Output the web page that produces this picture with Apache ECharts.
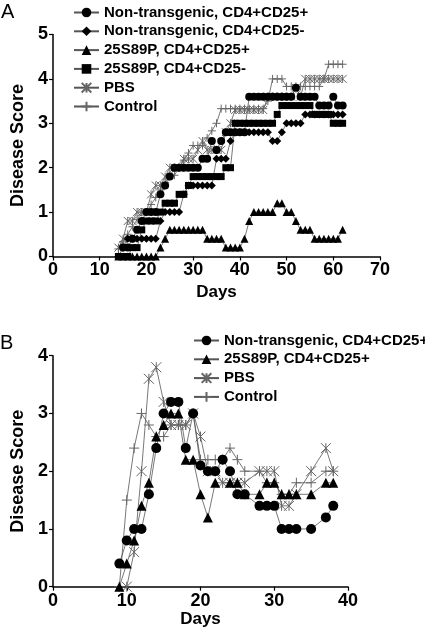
<!DOCTYPE html>
<html><head><meta charset="utf-8">
<script src="https://cdn.jsdelivr.net/npm/echarts@6/dist/echarts.min.js"></script>
<style>html,body{margin:0;padding:0;background:#fff}#c{width:425px;height:634px}</style>
</head><body><div id="c"></div>
<script>
// ---------- Panel A data (days 14..62) ----------
const daysA = [14,15,16,17,18,19,20,21,22,23,24,25,26,27,28,29,30,31,32,33,34,35,36,37,38,39,40,41,42,43,44,45,46,47,48,49,50,51,52,53,54,55,56,57,58,59,60,61,62];
const ntPlusA  = [null,0.2,0.2,0.4,0.6,0.8,1.0,1.0,1.0,1.4,1.6,1.8,2.0,2.0,2.0,2.0,2.0,2.0,2.2,2.2,2.6,2.4,2.6,2.8,2.8,2.8,2.8,2.8,3.6,3.6,3.6,3.6,3.6,3.6,3.6,3.6,3.6,3.6,3.8,3.6,3.6,3.6,3.6,3.4,3.4,3.4,3.6,3.4,3.4];
const ntMinusA = [0,0.2,0.4,0.4,0.4,0.4,0.4,0.4,0.4,0.8,1.0,1.0,1.0,1.0,1.4,1.6,1.6,1.6,1.6,1.6,1.6,2.2,2.2,2.2,2.6,2.8,2.8,2.8,2.8,2.8,2.8,2.8,2.8,2.6,2.6,2.8,3.0,3.0,3.0,3.0,3.2,3.2,3.2,3.2,3.2,3.2,3.2,3.2,3.2];
const tgPlusA  = [0,0,0,0,0,0,0,0,0,0.2,0.4,0.6,0.6,0.6,0.6,0.6,0.6,0.6,0.6,0.4,0.4,0.4,0.4,0.2,0.2,0.2,0.2,0.4,0.8,1.0,1.0,1.0,1.0,1.0,1.2,1.2,1.0,1.0,0.8,0.6,0.6,0.6,0.4,0.4,0.4,0.4,0.4,0.4,0.6];
const tgMinusA = [0,0,0,0.2,0.2,0.6,0.8,0.8,0.8,1.0,1.2,1.2,1.2,1.4,1.4,1.6,1.8,1.8,1.8,1.8,1.8,1.8,1.8,2.0,2.0,3.0,3.0,3.0,3.0,3.0,3.0,3.0,3.0,3.0,3.2,3.4,3.4,3.4,3.4,3.4,3.4,3.4,3.2,3.2,3.2,3.2,3.0,3.0,3.0];
const pbsA     = [0.2,0.4,0.8,0.8,1.0,1.0,1.0,1.4,1.6,1.6,1.8,2.0,2.0,2.0,2.2,2.2,2.2,2.4,2.6,2.4,2.4,2.4,2.4,2.8,3.0,3.3,3.3,3.3,3.3,3.3,3.3,3.3,3.6,3.6,3.6,3.6,3.6,3.6,3.8,3.6,4.0,4.0,4.0,4.0,4.0,4.0,4.0,4.0,4.0];
const controlA = [0.17,0.33,0.5,0.67,0.83,1.0,1.0,1.17,1.33,1.5,1.67,1.83,1.83,2.0,2.17,2.33,2.5,2.5,2.5,2.67,2.83,3.0,3.33,3.33,3.33,3.33,3.33,3.33,3.33,3.33,3.33,3.33,3.5,4.0,4.0,4.0,3.83,3.83,3.83,3.83,3.83,3.83,3.83,3.83,4.0,4.33,4.33,4.33,4.33];

// ---------- Panel B data ----------
const daysB = [9,10,11,12,13,14,15,16,17,18,19,20,21,22,23,24,25,26,28,29,30,31,32,33,35,37,38];
const ntPlusB  = [0.4,0.8,1.0,1.0,1.6,2.4,3.0,3.2,3.2,2.4,3.0,2.1,2.0,2.0,2.2,2.0,1.6,1.6,1.4,1.4,1.4,1.0,1.0,1.0,1.0,1.2,1.4];
const tgPlusB  = [0,0.4,0.8,1.4,1.8,2.6,2.8,3.0,3.0,2.2,2.2,1.6,1.2,1.8,null,1.8,1.8,1.6,1.6,1.8,1.8,1.6,1.6,1.6,1.6,1.8,1.8];
const pbsB     = [null,0,0.6,2.0,3.6,3.8,3.2,2.8,2.8,2.8,3.0,2.6,2.0,2.0,1.8,1.8,1.8,1.8,2.0,2.0,2.0,1.4,1.4,1.6,2.0,2.4,2.0];
const controlB = [0,1.5,2.4,3.0,2.8,2.6,2.6,2.8,2.8,2.8,3.0,2.2,2.2,2.2,2.2,2.4,2.2,2.0,2.0,1.8,1.8,1.6,1.6,1.8,1.8,2.0,2.0];

const xTicksA = {min:0, max:70, interval:10};
const yTicksA = {min:0, max:5, interval:1};
const xTicksB = {min:0, max:40, interval:10};
const yTicksB = {min:0, max:4, interval:1};

const N1 = 'Non-transgenic, CD4+CD25+';
const N2 = 'Non-transgenic, CD4+CD25-';
const N3 = '25S89P, CD4+CD25+';
const N4 = '25S89P, CD4+CD25-';
const N5 = 'PBS';
const N6 = 'Control';

const FONT = "'Liberation Sans', Arial, sans-serif";
const ASTER = 'path://M0,0L10,10M10,0L0,10M5,0L5,10';
const PLUS = 'path://M5,0L5,10M0,5L10,5';

function pairs(days, vals){ return days.map((d,i)=>[d, vals[i]]); }

function ser(name, days, vals, gi, sym, size, hollow){
  return {
    name, type:'line', xAxisIndex:gi, yAxisIndex:gi,
    data: pairs(days, vals), connectNulls:true,
    symbol: sym, symbolSize: size, showAllSymbol:true,
    lineStyle:{color:'#555', width:0.8},
    itemStyle: hollow ? {color:'rgba(0,0,0,0)', borderColor:'#666', borderWidth:1}
                      : {color:'#000', borderWidth:0},
    emphasis:{disabled:true}, animation:false
  };
}

function xAx(gi, t, gap){
  return {type:'value', gridIndex:gi, min:t.min, max:t.max, interval:t.interval,
    axisLine:{show:true, lineStyle:{color:'#000', width:1.5}},
    axisTick:{show:true, length:4, lineStyle:{color:'#000', width:1.2}},
    splitLine:{show:false},
    axisLabel:{color:'#000', fontWeight:'bold', fontSize:18, fontFamily:FONT, margin:5},
    name:'Days', nameLocation:'middle', nameGap:gap,
    nameTextStyle:{color:'#000', fontWeight:'bold', fontSize:17, fontFamily:FONT}};
}
function yAx(gi, t){
  return {type:'value', gridIndex:gi, min:t.min, max:t.max, interval:t.interval,
    axisLine:{show:true, lineStyle:{color:'#000', width:1.5}},
    axisTick:{show:true, length:4, lineStyle:{color:'#000', width:1.2}},
    splitLine:{show:false},
    axisLabel:{color:'#000', fontWeight:'bold', fontSize:18, fontFamily:FONT, margin:5},
    name:'Disease Score', nameLocation:'middle', nameGap:26,
    nameTextStyle:{color:'#000', fontWeight:'bold', fontSize:18, fontFamily:FONT}};
}

const chart = echarts.init(document.getElementById('c'), null, {renderer:'canvas'});
chart.setOption({
  animation:false,
  backgroundColor:'#fff',
  grid:[
    {left:53, top:34.5, width:327, height:222},
    {left:53, top:355.7, width:295, height:231}
  ],
  xAxis:[xAx(0, xTicksA, 27), xAx(1, xTicksB, 24)],
  yAxis:[yAx(0, yTicksA), yAx(1, yTicksB)],
  legend:[
    {data:[N1,N2,N3,N4,N5,N6], orient:'vertical', left:68, top:0,
     itemWidth:25, itemHeight:12, itemGap:3.8, selectedMode:false,
     textStyle:{color:'#000', fontWeight:'bold', fontSize:15, fontFamily:FONT, lineHeight:14}},
    {data:[N1,N3,N5,N6], orient:'vertical', left:188, top:328,
     itemWidth:25, itemHeight:12, itemGap:3.8, selectedMode:false,
     textStyle:{color:'#000', fontWeight:'bold', fontSize:15, fontFamily:FONT, lineHeight:14}}
  ],
  graphic:[
    {type:'text', left:1, top:2, style:{text:'A', fontSize:20, fontFamily:FONT, fill:'#000'}},
    {type:'text', left:0, top:333, style:{text:'B', fontSize:20, fontFamily:FONT, fill:'#000'}}
  ],
  series:[
    ser(N5, daysA, pbsA, 0, ASTER, 8, true),
    ser(N6, daysA, controlA, 0, PLUS, 8, true),
    ser(N4, daysA, tgMinusA, 0, 'rect', 7, false),
    ser(N3, daysA, tgPlusA, 0, 'triangle', 8, false),
    ser(N2, daysA, ntMinusA, 0, 'diamond', 8, false),
    ser(N1, daysA, ntPlusA, 0, 'circle', 8, false),
    ser(N5, daysB, pbsB, 1, ASTER, 10, true),
    ser(N6, daysB, controlB, 1, PLUS, 10, true),
    ser(N3, daysB, tgPlusB, 1, 'triangle', 10, false),
    ser(N1, daysB, ntPlusB, 1, 'circle', 10, false)
  ]
});
</script></body></html>
